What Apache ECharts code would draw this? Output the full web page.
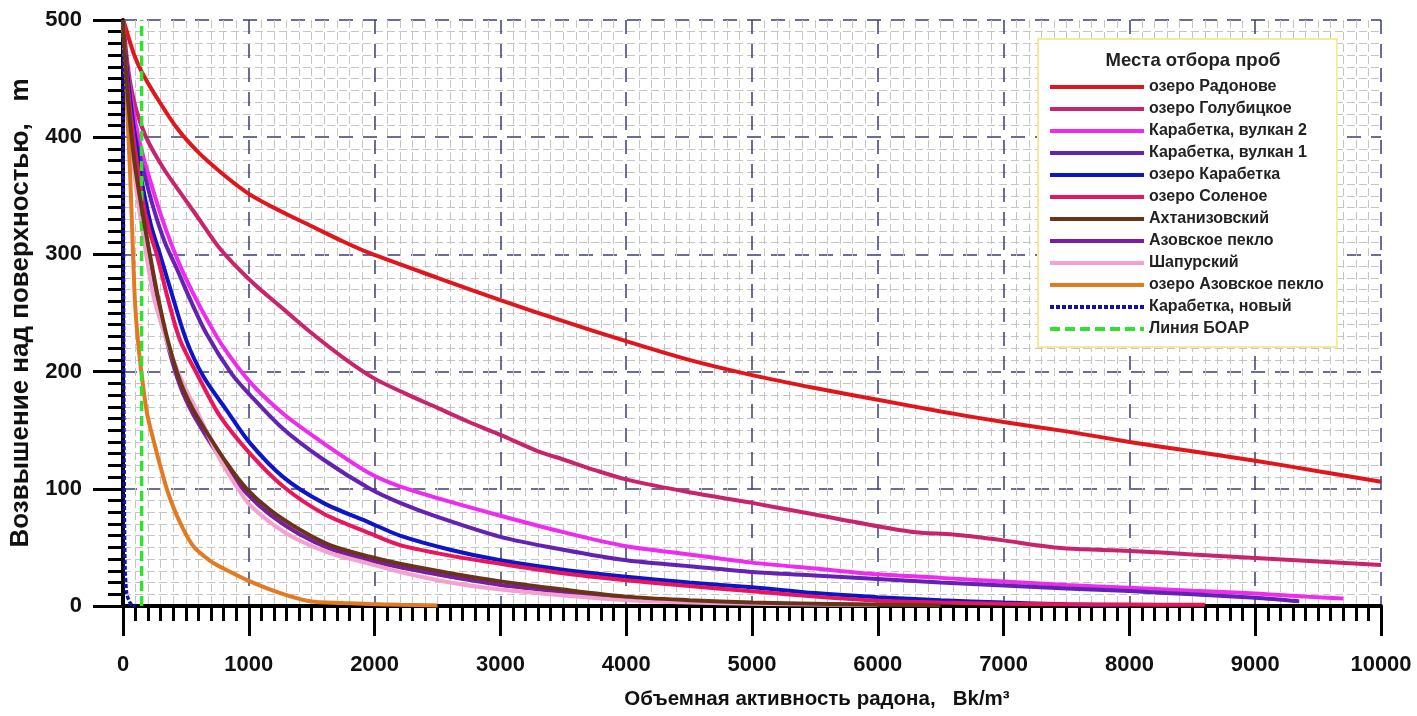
<!DOCTYPE html>
<html lang="ru">
<head>
<meta charset="UTF-8">
<title>Радон</title>
<script src="https://cdn.jsdelivr.net/npm/echarts@6/dist/echarts.min.js"></script>
<style>
  html, body { margin: 0; padding: 0; background: #fff; }
  #chart { width: 1417px; height: 716px; }
</style>
</head>
<body>
<div id="chart"></div>
<script>
// данные: [объемная активность, высота]
var names = ['озеро Радонове', 'озеро Голубицкое', 'Карабетка, вулкан 2', 'Карабетка, вулкан 1',
    'озеро Карабетка', 'озеро Соленое', 'Ахтанизовский', 'Азовское пекло', 'Шапурский',
    'озеро Азовское пекло', 'Карабетка, новый', 'Линия БОАР'];

var radonove = [[0,500],[20,494],[50,483],[90,470],[148,456],[250,437],[427,408],[600,387],[800,368],
    [1010,351],[1250,337],[1500,324],[1750,311],[1963,301],[2500,280],[3000,261],[3500,243],[4000,226],
    [4500,210],[5000,197],[5500,186],[6000,176],[6500,166],[7000,157],[7500,149],[8000,140],[8500,132],
    [9000,124],[9500,115],[10000,106]];
var golubitskoe = [[0,500],[30,468],[60,445],[109,422],[175,402],[241,388],[330,372],[427,357],[586,333],
    [770,305],[1010,278],[1300,251],[1486,234],[1750,212],[2000,194],[2250,181],[2500,169],[2750,157],
    [3000,146],[3300,132],[3500,125],[3750,116],[4000,108],[4500,97],[5000,88],[5500,78],[6000,68],
    [6300,63],[6600,61],[7000,56],[7250,52],[7500,49],[8000,47],[8500,44],[9000,41],[9500,38],[10000,35]];
var vulkan2 = [[0,500],[20,470],[56,440],[100,412],[162,383],[230,358],[300,334],[387,308],[480,284],
    [580,262],[665,245],[797,221],[1010,191],[1274,164],[1592,139],[1963,113],[2200,102],[2500,92],
    [3000,77],[3500,63],[4000,51],[4500,44],[5000,37],[5500,32],[6000,27],[6500,24],[7000,21],[7500,18],
    [8000,15.5],[8500,13],[9000,10.7],[9400,8],[9700,6.4]];
var vulkan1 = [[0,500],[20,465],[56,425],[100,400],[148,378],[241,340],[334,310],[427,288],[532,262],
    [665,232],[864,198],[1010,180],[1274,151],[1592,125],[1963,100],[2202,88],[2500,76],[3000,59],
    [3500,48],[4000,39],[4500,34],[5000,29],[5500,26],[6000,23],[6500,20],[7000,17.5],[7500,15],
    [8000,12.7],[8500,10],[9000,7],[9350,4]];
var karabetka = [[0,500],[20,470],[50,440],[95,400],[150,362],[220,326],[294,300],[400,262],[506,226],
    [638,196],[824,167],[1010,139],[1274,110],[1592,88],[1963,71],[2202,60],[2600,48],[3000,39],
    [3500,31],[4000,25],[4500,20],[5000,16],[5500,11],[6000,7.5],[6500,5],[7000,3],[7500,1.5],[8000,0.8]];
var solenoe = [[0,500],[20,465],[50,430],[90,395],[150,350],[210,320],[268,300],[360,261],[453,227],
    [598,196],[771,162],[1010,130],[1274,102],[1592,79],[1963,62],[2202,52],[2600,43],[3000,36],
    [3500,28],[4000,22],[4500,17],[5000,12.5],[5500,8],[6000,4.5],[6500,3],[7000,2],[7500,1.5],
    [8000,1.2],[8600,1]];
var akhtanizovsky = [[0,500],[20,462],[50,420],[90,380],[140,345],[200,308],[281,262],[360,225],
    [453,192],[545,170],[638,153],[824,122],[983,100],[1168,82],[1407,65],[1645,52],[1963,42],
    [2202,36],[2600,28],[3000,21],[3500,14],[4000,8],[4500,5],[5000,3],[5500,2],[6000,1],[6500,0.5]];
var azovPeklo = [[0,500],[20,460],[50,417],[90,376],[140,340],[200,303],[281,258],[360,221],[453,188],
    [545,166],[638,149],[824,118],[983,96],[1168,78],[1407,61],[1645,49],[1963,39],[2202,33],[2600,25],
    [3000,18],[3500,12],[4000,7],[4500,4],[5000,2.5],[5500,1.5],[6000,1]];
var shapursky = [[0,500],[20,455],[56,405],[110,352],[170,310],[241,265],[320,235],[400,210],[490,187],
    [586,167],[680,145],[771,125],[890,104],[1010,86],[1200,69],[1381,57],[1650,45],[1963,36],[2202,29],
    [2600,20],[3000,14],[3500,9],[4000,5],[4500,3],[5000,2],[5500,1.2],[6000,0.8]];
var ozeroAzov = [[0,500],[15,470],[35,420],[56,370],[75,315],[95,260],[120,225],[148,198],[190,165],
    [241,142],[300,118],[360,96],[450,72],[559,51],[700,38],[800,32],[1010,21],[1250,11],[1486,4],
    [1750,2.5],[1963,1.7],[2200,1],[2500,0.5]];
var karabetkaNew = [[0,500],[2,400],[4,300],[6,200],[9,120],[16,35],[29,11],[50,4],[70,1],[100,0]];
var boar = [[148,0],[148,500]];

var seriesData = [radonove, golubitskoe, vulkan2, vulkan1, karabetka, solenoe, akhtanizovsky,
    azovPeklo, shapursky, ozeroAzov, karabetkaNew, boar];
var colors = ['#e0161c', '#c8246c', '#ee2cee', '#6422b2', '#0c16c8', '#e8165c', '#6a3418',
    '#7c1ca2', '#f2a2cc', '#e27a22', '#1212a8', '#2ee22e'];

var font = '"Liberation Sans", Arial, sans-serif';
var myChart = echarts.init(document.getElementById('chart'));

var series = [];
for (var i = 0; i < names.length; i++) {
    var lt = 'solid';
    if (i === 10) lt = [4, 2];
    if (i === 11) lt = [10, 5];
    series.push({
        name: names[i],
        type: 'line',
        data: seriesData[i],
        symbol: 'none',
        smooth: i === 11 ? false : 0.3,
        color: colors[i],
        z: i === 6 ? 3 : 2,   // коричневая поверх фиолетовой
        lineStyle: { width: i >= 10 ? 3.5 : 4, type: lt, color: colors[i] }
    });
}

option = {
    animation: false,
    backgroundColor: '#fff',
    title: {
        text: 'Места отбора проб',
        left: 1188,
        top: 46,
        textAlign: 'center',
        textStyle: { fontSize: 18.5, fontWeight: 'bold', color: '#222', fontFamily: font }
    },
    legend: {
        orient: 'vertical',
        left: 1038,
        top: 39,
        padding: [40, 13, 10, 10],
        itemWidth: 94,
        itemHeight: 16,
        itemGap: 6,
        backgroundColor: '#fff',
        borderColor: '#f2ec9a',
        borderWidth: 2,
        itemStyle: { opacity: 0 },
        lineStyle: { width: 4 },
        textStyle: { fontSize: 16, fontWeight: 'bold', color: '#222', fontFamily: font },
        data: names
    },
    grid: { left: 123, right: 36, top: 20, bottom: 110 },
    xAxis: {
        type: 'value',
        min: 0,
        max: 10000,
        interval: 1000,
        name: 'Объемная активность радона,   Bk/m³',
        nameLocation: 'middle',
        nameGap: 83,
        nameTextStyle: { fontSize: 20.5, fontWeight: 'bold', color: '#111', fontFamily: font, padding: [0, 0, 0, 130] },
        axisLine: { lineStyle: { color: '#000', width: 4 } },
        axisTick: { length: 30, lineStyle: { width: 3, color: '#000' } },
        minorTick: { show: true, splitNumber: 10, length: 15, lineStyle: { width: 3, color: '#000' } },
        axisLabel: {
            margin: 48, fontSize: 22, fontWeight: 'bold', color: '#111', fontFamily: font,
            formatter: function (v) { return String(v); }
        },
        splitLine: { lineStyle: { color: '#3c3c78', width: 1.5, type: [14, 10] } },
        minorSplitLine: { show: true, lineStyle: { color: '#c4c4c4', width: 1, type: [8, 4] } }
    },
    yAxis: {
        type: 'value',
        min: 0,
        max: 500,
        interval: 100,
        name: 'Возвышение над поверхностью,   m',
        nameLocation: 'middle',
        nameGap: 89,
        nameTextStyle: { fontSize: 26, fontWeight: 'bold', color: '#111', fontFamily: font },
        axisLine: { show: true, lineStyle: { color: '#000', width: 4 } },
        axisTick: { show: true, length: 30, lineStyle: { width: 3, color: '#000' } },
        minorTick: { show: true, splitNumber: 10, length: 15, lineStyle: { width: 3, color: '#000' } },
        axisLabel: { margin: 41, fontSize: 22, fontWeight: 'bold', color: '#111', fontFamily: font },
        splitLine: { lineStyle: { color: '#3c3c78', width: 1.5, type: [14, 10] } },
        minorSplitLine: { show: true, lineStyle: { color: '#c4c4c4', width: 1, type: [8, 4] } }
    },
    series: series
};
myChart.setOption(option);
</script>
</body>
</html>
